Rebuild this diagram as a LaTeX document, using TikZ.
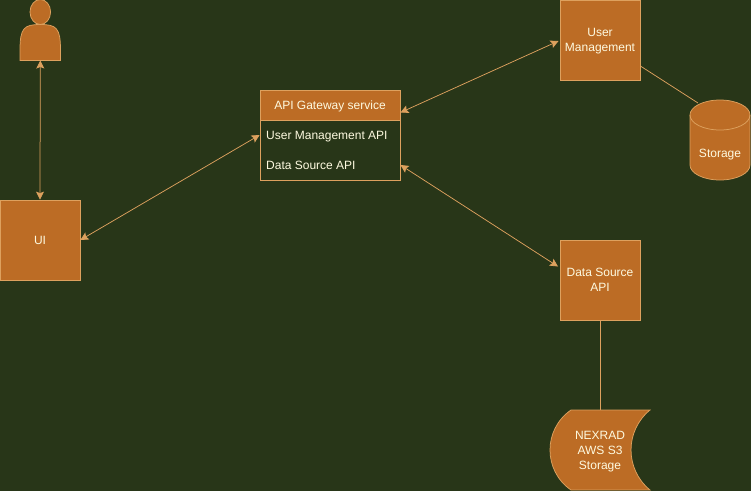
\documentclass[tikz,border=0pt]{standalone}
\usepackage{fontspec}
\setmainfont{Liberation Sans}
\usetikzlibrary{arrows.meta}
\definecolor{bgc}{HTML}{283618}
\definecolor{fillc}{HTML}{BC6C25}
\definecolor{linec}{HTML}{DDA15E}
\definecolor{textc}{HTML}{FEFAE0}
\tikzset{
  lbl/.style={text=textc,font=\fontsize{12}{15}\selectfont,align=center,inner sep=0pt},
  leftlbl/.style={text=textc,font=\fontsize{12}{15}\selectfont,anchor=base west,inner sep=0pt},
  boxnode/.style={draw=linec,fill=fillc,line width=0.75pt,minimum width=80pt,minimum height=80pt},
  shapeline/.style={draw=linec,fill=fillc,line width=0.75pt},
  link/.style={draw=linec,line width=0.75pt},
  twoway/.style={link,{Stealth[length=8pt,width=8pt,inset=1.5pt]}-{Stealth[length=8pt,width=8pt,inset=1.5pt]}}
}
\begin{document}
\begin{tikzpicture}[x=1pt,y=-1pt]
\useasboundingbox (0,0) rectangle (751,491);
\fill[bgc] (0,0) rectangle (751,491);
% person
\path[shapeline] (20,60.5) -- (20,50) .. controls (20,28) and (24,24.5) .. (40.3,24.5) .. controls (56.5,24.5) and (60.5,28) .. (60.5,50) -- (60.5,60.5) -- cycle;
\path[shapeline] (40.3,12) ellipse (10.3pt and 12.5pt);
\coordinate (personfoot) at (40.3,60.5);
% boxes
\node[boxnode] (ui) at (40,240) {};
\node[lbl] (uit) at (40,240) {UI};
\node[boxnode] (um) at (600,40) {};
\node[lbl] (umt) at (600,40.5) {\strut User\\\strut Management};
\node[boxnode] (ds) at (600,280) {};
\node[lbl] (dst) at (600,280.5) {\strut Data Source\\\strut API};
% gateway
\node[draw=linec,line width=0.75pt,minimum width=140pt,minimum height=90pt] (gw) at (330,135) {};
\node[shapeline,minimum width=140pt,minimum height=30pt] (gwh) at (330,105) {};
\node[lbl] (gwt) at (330,106) {API Gateway service};
\node[leftlbl] (gwa) at (266,139.5) {User Management API};
\node[leftlbl] (gwb) at (266,169.5) {Data Source API};
\coordinate (gwup) at (400.5,112.5);
\coordinate (gwdown) at (400.5,165);
\coordinate (dsin) at (558,266.5);
\coordinate (umin) at (558.5,41);
% storage cylinder
\path[shapeline] (690,115) .. controls (690,106.7) and (703.4,100) .. (720,100) .. controls (736.6,100) and (750,106.7) .. (750,115) -- (750,165) .. controls (750,173.3) and (736.6,180) .. (720,180) .. controls (703.4,180) and (690,173.3) .. (690,165) -- cycle;
\draw[link] (690,115) .. controls (690,123.3) and (703.4,130) .. (720,130) .. controls (736.6,130) and (750,123.3) .. (750,115);
\node[lbl,anchor=base] (st) at (720,157) {Storage};
\coordinate (sttop) at (698,103);
% data store
\path[shapeline] (571,410) -- (650,410) .. controls (624.7,430.7) and (624.7,469.3) .. (650,490) -- (571,490) .. controls (543,470.7) and (543,429.3) .. (571,410) -- cycle;
\node[lbl] (nx) at (600,451.5) {\strut NEXRAD\\\strut AWS S3\\\strut Storage};
\coordinate (nxtop) at (600,410);
% connectors
\draw[twoway] (personfoot) -- (ui.north);
\draw[twoway] (ui.east) -- (gw.west);
\draw[twoway] (gwup) -- (umin);
\draw[twoway] (gwdown) -- (dsin);
\draw[link] (um.east |- 0,66) -- (sttop);
\draw[link] (ds.south) -- (nxtop);
\end{tikzpicture}
\end{document}
